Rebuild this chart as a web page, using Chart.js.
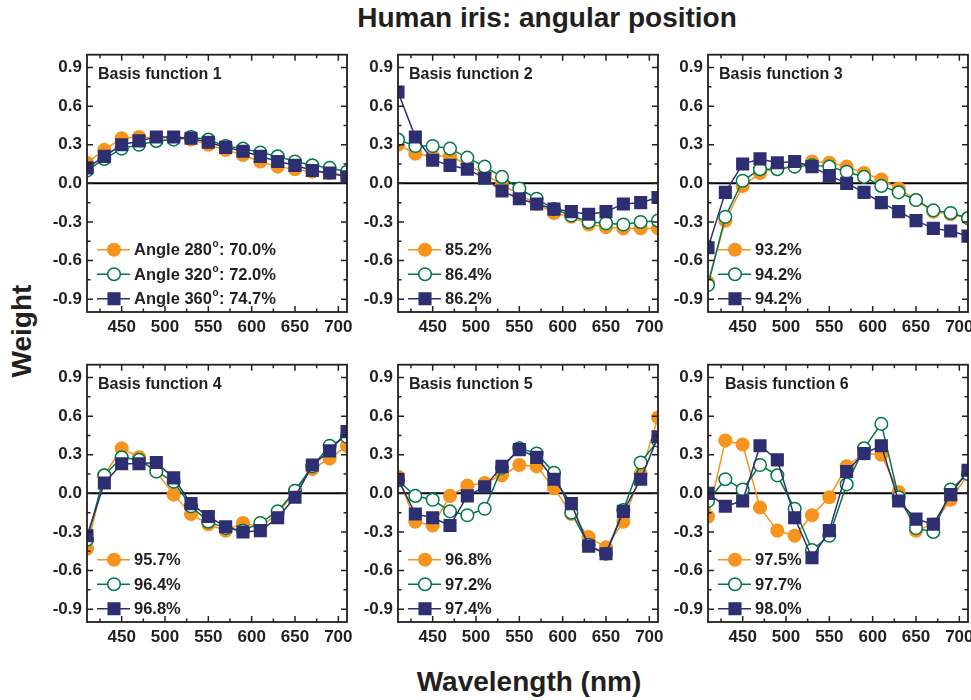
<!DOCTYPE html>
<html>
<head>
<meta charset="utf-8">
<script src="https://cdn.jsdelivr.net/npm/chart.js@4"></script>
<style>
  body { margin: 0; background: #fff; }
  #wrap { position: relative; width: 971px; height: 700px; overflow: hidden; font-family: "Liberation Sans", Arial, sans-serif; color: #231f20; }
  #wrap canvas { position: absolute; }
  .lbl { position: absolute; font-weight: bold; font-size: 28px; line-height: 28px; white-space: nowrap; }
</style>
</head>
<body>
<div id="wrap">
  <div class="lbl" style="left:547px; top:4px; transform:translateX(-50%)">Human iris: angular position</div>
  <div class="lbl" style="left:529px; top:668px; transform:translateX(-50%)">Wavelength (nm)</div>
  <div class="lbl" style="left:22px; top:331px; transform:translate(-50%,-50%) rotate(-90deg)">Weight</div>
</div>
<script>
// wavelengths (nm) and axis ticks
const wavelengths = [410, 430, 450, 470, 490, 510, 530, 550, 570, 590, 610, 630, 650, 670, 690, 710];
const xTicks = [450, 500, 550, 600, 650, 700];
const yTicks = [-0.9, -0.6, -0.3, 0, 0.3, 0.6, 0.9];

// basis function 1
const bf1Angle280 = [0.16, 0.26, 0.35, 0.36, 0.355, 0.35, 0.34, 0.30, 0.26, 0.22, 0.17, 0.13, 0.11, 0.09, 0.08, 0.06];
const bf1Angle320 = [0.10, 0.19, 0.27, 0.30, 0.33, 0.34, 0.36, 0.34, 0.29, 0.27, 0.24, 0.21, 0.17, 0.14, 0.12, 0.09];
const bf1Angle360 = [0.12, 0.21, 0.30, 0.33, 0.36, 0.36, 0.35, 0.32, 0.28, 0.25, 0.21, 0.17, 0.14, 0.10, 0.08, 0.05];
// basis function 2
const bf2Angle280 = [0.30, 0.23, 0.21, 0.21, 0.15, 0.07, -0.01, -0.09, -0.16, -0.23, -0.26, -0.32, -0.34, -0.35, -0.35, -0.35];
const bf2Angle320 = [0.34, 0.29, 0.29, 0.27, 0.20, 0.13, 0.05, -0.04, -0.12, -0.20, -0.25, -0.30, -0.31, -0.32, -0.30, -0.29];
const bf2Angle360 = [0.71, 0.36, 0.18, 0.14, 0.11, 0.04, -0.06, -0.12, -0.16, -0.20, -0.22, -0.24, -0.22, -0.16, -0.15, -0.11];
// basis function 3
const bf3Angle280 = [-0.77, -0.29, -0.02, 0.08, 0.12, 0.13, 0.17, 0.16, 0.13, 0.08, 0.03, -0.04, -0.13, -0.22, -0.24, -0.27];
const bf3Angle320 = [-0.79, -0.26, 0.02, 0.11, 0.11, 0.13, 0.14, 0.13, 0.09, 0.05, -0.02, -0.07, -0.13, -0.21, -0.23, -0.27];
const bf3Angle360 = [-0.50, -0.07, 0.15, 0.19, 0.16, 0.17, 0.13, 0.06, 0.00, -0.07, -0.15, -0.22, -0.29, -0.35, -0.37, -0.41];
// basis function 4
const bf4Angle280 = [-0.43, 0.14, 0.35, 0.28, 0.17, -0.01, -0.16, -0.24, -0.29, -0.23, -0.26, -0.16, 0.02, 0.19, 0.27, 0.37];
const bf4Angle320 = [-0.36, 0.14, 0.28, 0.26, 0.17, 0.09, -0.10, -0.22, -0.27, -0.29, -0.23, -0.14, 0.02, 0.21, 0.37, 0.44];
const bf4Angle360 = [-0.33, 0.08, 0.23, 0.23, 0.24, 0.12, -0.08, -0.18, -0.26, -0.30, -0.29, -0.19, -0.03, 0.22, 0.33, 0.48];
// basis function 5
const bf5Angle280 = [0.13, -0.22, -0.25, -0.02, 0.06, 0.08, 0.14, 0.22, 0.21, 0.04, -0.16, -0.34, -0.42, -0.22, 0.15, 0.59];
const bf5Angle320 = [0.10, -0.02, -0.05, -0.14, -0.17, -0.12, 0.20, 0.35, 0.31, 0.16, -0.15, -0.40, -0.47, -0.13, 0.24, 0.41];
const bf5Angle360 = [0.11, -0.16, -0.19, -0.25, -0.02, 0.05, 0.21, 0.34, 0.28, 0.11, -0.08, -0.41, -0.47, -0.14, 0.11, 0.44];
// basis function 6
const bf6Angle280 = [-0.18, 0.41, 0.38, -0.11, -0.29, -0.33, -0.17, -0.03, 0.21, 0.31, 0.30, 0.01, -0.29, -0.24, -0.05, 0.15];
const bf6Angle320 = [-0.06, 0.11, 0.03, 0.22, 0.14, -0.12, -0.44, -0.33, 0.07, 0.35, 0.54, -0.03, -0.27, -0.30, 0.03, 0.15];
const bf6Angle360 = [0.00, -0.10, -0.06, 0.37, 0.26, -0.19, -0.50, -0.29, 0.17, 0.31, 0.37, -0.06, -0.20, -0.24, -0.01, 0.18];

// legend texts
const legend1 = ["Angle 280°: 70.0%", "Angle 320°: 72.0%", "Angle 360°: 74.7%"];
const legend2 = ["85.2%", "86.4%", "86.2%"];
const legend3 = ["93.2%", "94.2%", "94.2%"];
const legend4 = ["95.7%", "96.4%", "96.8%"];
const legend5 = ["96.8%", "97.2%", "97.4%"];
const legend6 = ["97.5%", "97.7%", "98.0%"];

const panelTitles = ["Basis function 1", "Basis function 2", "Basis function 3",
                     "Basis function 4", "Basis function 5", "Basis function 6"];

const ink = "#231f20";
const lineColors = ["#f7941d", "#00784a", "#2e2f72"];
const fillColors = ["#f7941d", "#ffffff", "#2e2f72"];
const markers = ["circle", "circle", "rect"];
const radii = [6.3, 6.3, 8.2];
const FONT = '"Liberation Sans", Arial, sans-serif';

// minor ticks halfway between major ones
function minorTicks(major, min, max) {
  const step = major[1] - major[0];
  const out = [];
  major.forEach(v => {
    [v - step / 2, v + step / 2].forEach(m => {
      if (m > min && m < max && !out.some(o => Math.abs(o - m) < 1e-6)) out.push(m);
    });
  });
  return out;
}

const framePlugin = {
  id: "frame",
  beforeDatasetsDraw(chart) {
    const { ctx, chartArea: a, scales } = chart;
    const y0 = scales.y.getPixelForValue(0);
    ctx.save();
    ctx.strokeStyle = "#000";
    ctx.lineWidth = 2;
    ctx.beginPath();
    ctx.moveTo(a.left, y0);
    ctx.lineTo(a.right, y0);
    ctx.stroke();
    ctx.restore();
  },
  afterDraw(chart, args, opts) {
    const { ctx, chartArea: a, scales } = chart;
    const xs = scales.x, ys = scales.y;
    ctx.save();
    ctx.strokeStyle = ink;
    ctx.lineWidth = 1.5;
    // ticks inside on all four sides
    const tick = (len, vals, isX) => {
      vals.forEach(v => {
        ctx.beginPath();
        if (isX) {
          const p = xs.getPixelForValue(v);
          ctx.moveTo(p, a.bottom); ctx.lineTo(p, a.bottom - len);
          ctx.moveTo(p, a.top); ctx.lineTo(p, a.top + len);
        } else {
          const p = ys.getPixelForValue(v);
          ctx.moveTo(a.left, p); ctx.lineTo(a.left + len, p);
          ctx.moveTo(a.right, p); ctx.lineTo(a.right - len, p);
        }
        ctx.stroke();
      });
    };
    tick(6, xTicks, true);
    tick(3.5, minorTicks(xTicks, xs.min, xs.max), true);
    tick(6, yTicks, false);
    tick(3.5, minorTicks(yTicks, ys.min, ys.max), false);
    ctx.lineWidth = 1.8;
    ctx.strokeRect(a.left, a.top, a.right - a.left, a.bottom - a.top);

    // panel title
    ctx.fillStyle = ink;
    ctx.font = "bold 16px " + FONT;
    ctx.textBaseline = "middle";
    ctx.textAlign = "left";
    ctx.fillText(opts.title, a.left + opts.titleDx, a.top + 20);

    // legend, bottom-left inside the plot
    chart.data.datasets.forEach((ds, i) => {
      const y = a.top + 195 + i * 24.5;
      ctx.strokeStyle = ds.borderColor;
      ctx.lineWidth = 1.5;
      ctx.beginPath();
      ctx.moveTo(a.left + 10, y);
      ctx.lineTo(a.left + 43, y);
      ctx.stroke();
      ctx.fillStyle = ds.pointBackgroundColor;
      Chart.helpers.drawPoint(ctx, { pointStyle: ds.pointStyle, radius: ds.pointRadius, borderWidth: 1.5 }, a.left + 27, y);
      ctx.fillStyle = ink;
      ctx.font = "bold 16.5px " + FONT;
      let x = a.left + 47;
      const parts = ds.label.split("°");
      ctx.fillText(parts[0], x, y + 1);
      if (parts.length > 1) {
        x += ctx.measureText(parts[0]).width + 0.5;
        ctx.font = "bold 10px " + FONT;
        ctx.fillText("o", x, y - 5);
        x += ctx.measureText("o").width + 0.5;
        ctx.font = "bold 16.5px " + FONT;
        ctx.fillText(parts[1], x, y + 1);
      }
    });
    ctx.restore();
  }
};

const panels = [
  { left: 87, top: 53, series: [bf1Angle280, bf1Angle320, bf1Angle360], legend: legend1, dx: 11 },
  { left: 398, top: 53, series: [bf2Angle280, bf2Angle320, bf2Angle360], legend: legend2, dx: 11 },
  { left: 708, top: 53, series: [bf3Angle280, bf3Angle320, bf3Angle360], legend: legend3, dx: 11 },
  { left: 87, top: 363, series: [bf4Angle280, bf4Angle320, bf4Angle360], legend: legend4, dx: 11 },
  { left: 398, top: 363, series: [bf5Angle280, bf5Angle320, bf5Angle360], legend: legend5, dx: 11 },
  { left: 708, top: 363, series: [bf6Angle280, bf6Angle320, bf6Angle360], legend: legend6, dx: 17 }
];

const PW = 260, PH = 259, PL = 52, PT = 8, PR = 20, PB = 30;
const tickFont = { family: FONT, size: 17, weight: "bold" };

panels.forEach((p, k) => {
  const c = document.createElement("canvas");
  c.width = PL + PW + PR;
  c.height = PT + PH + PB;
  c.style.left = (p.left - PL) + "px";
  c.style.top = (p.top - PT) + "px";
  document.getElementById("wrap").appendChild(c);

  new Chart(c, {
    type: "line",
    data: {
      datasets: p.series.map((s, i) => ({
        label: p.legend[i],
        data: wavelengths.map((w, j) => ({ x: w, y: s[j] })),
        borderColor: lineColors[i],
        backgroundColor: fillColors[i],
        pointBackgroundColor: fillColors[i],
        pointBorderColor: lineColors[i],
        pointStyle: markers[i],
        pointRadius: radii[i],
        pointBorderWidth: 1.5,
        borderWidth: 1.5,
        order: 3 - i,
        clip: 0
      }))
    },
    options: {
      responsive: false,
      animation: false,
      events: [],
      layout: { padding: { top: PT, right: PR, left: 0, bottom: 0 } },
      plugins: {
        legend: { display: false },
        tooltip: { enabled: false },
        frame: { title: panelTitles[k], titleDx: p.dx }
      },
      scales: {
        x: {
          type: "linear",
          min: 410,
          max: 710,
          afterBuildTicks: s => { s.ticks = xTicks.map(v => ({ value: v })); },
          afterFit: s => { s.height = PB; s.paddingLeft = 0; s.paddingRight = 0; },
          grid: { display: false, drawTicks: false },
          border: { display: false },
          ticks: { font: tickFont, color: ink, padding: 5, maxRotation: 0, autoSkip: false }
        },
        y: {
          min: -1,
          max: 1,
          afterBuildTicks: s => { s.ticks = yTicks.map(v => ({ value: v })); },
          afterFit: s => { s.width = PL; s.paddingTop = 0; s.paddingBottom = 0; },
          grid: { display: false, drawTicks: false },
          border: { display: false },
          ticks: { font: tickFont, color: ink, padding: 5, autoSkip: false, callback: v => v.toFixed(1) }
        }
      }
    },
    plugins: [framePlugin]
  });
});
</script>
</body>
</html>
